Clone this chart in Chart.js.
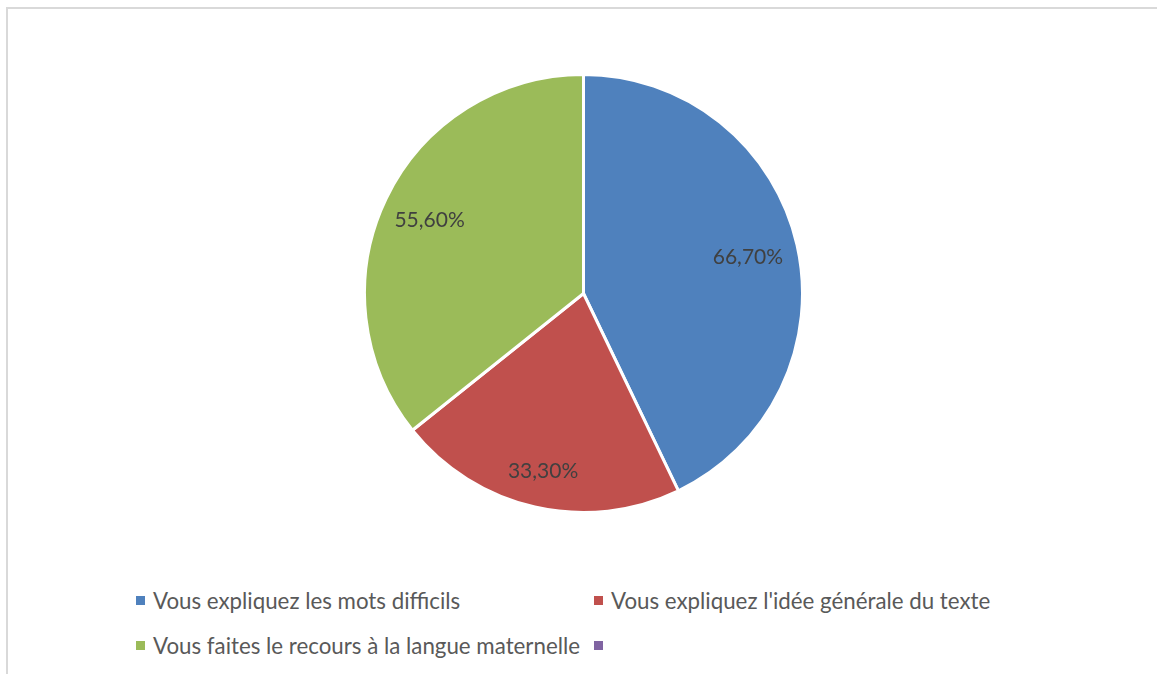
<!DOCTYPE html>
<html lang="fr">
<head>
<meta charset="utf-8">
<title>Diagramme</title>
<script src="https://cdn.jsdelivr.net/npm/chart.js@4"></script>
<style>
    html, body { margin: 0; padding: 0; background: #fff; }
    #frame {
        position: relative;
        width: 1157px;
        height: 674px;
        overflow: hidden;
        font-family: Lato, "Noto Sans", sans-serif;
    }
    #frame::before {
        content: '';
        position: absolute;
        left: 6px;
        top: 7px;
        width: 1200px;
        height: 700px;
        border-left: 2px solid #d9d9d9;
        border-top: 2px solid #d9d9d9;
    }
    #pieBox {
        position: absolute;
        left: 363px;
        top: 73px;
        width: 441px;
        height: 441px;
    }
    #legend {
        position: absolute;
        left: 136px;
        top: 578px;
        width: 916px;
        display: grid;
        grid-template-columns: 458px 458px;
        grid-auto-rows: 45px;
        color: #595959;
        font-size: 22.3px;
    }
    #legend .item { display: flex; align-items: center; white-space: nowrap; }
    #legend .box { width: 9px; height: 9px; margin-right: 8px; flex: none; }
</style>
</head>
<body>
<div id="frame">
    <div id="pieBox"><canvas id="pieChart"></canvas></div>
    <div id="legend"></div>
</div>
<script>
// Catégories et pourcentages
const categories = [
    'Vous expliquez les mots difficils',
    "Vous expliquez l'idée générale du texte",
    'Vous faites le recours à la langue maternelle',
    ''
];
const percentages = [66.7, 33.3, 55.6, null];

const sliceColors = ['#4f81bd', '#c0504d', '#9bbb59', '#8064a2'];
// distance des étiquettes depuis le centre (fraction du rayon)
const labelRadius = [0.77, 0.83, 0.78, 0.78];

function formatPct(v) {
    return v.toFixed(2).replace('.', ',') + '%';
}

// Étiquettes de valeur dans chaque part
const sliceLabels = {
    id: 'sliceLabels',
    afterDatasetsDraw(chart) {
        const ctx = chart.ctx;
        const meta = chart.getDatasetMeta(0);
        ctx.save();
        ctx.font = '21px Lato, "Noto Sans", sans-serif';
        ctx.fillStyle = '#404040';
        ctx.textAlign = 'center';
        ctx.textBaseline = 'middle';
        meta.data.forEach((arc, i) => {
            const v = percentages[i];
            if (v == null) return;
            const p = arc.getProps(['x', 'y', 'startAngle', 'endAngle', 'outerRadius'], true);
            const mid = (p.startAngle + p.endAngle) / 2;
            const r = p.outerRadius * labelRadius[i];
            ctx.fillText(formatPct(v), p.x + Math.cos(mid) * r, p.y + Math.sin(mid) * r + 1);
        });
        ctx.restore();
    }
};

const chart = new Chart(document.getElementById('pieChart'), {
    type: 'pie',
    data: {
        labels: categories,
        datasets: [{
            data: percentages,
            backgroundColor: sliceColors,
            borderColor: '#ffffff',
            borderWidth: [3, 3, 3, 0]
        }]
    },
    options: {
        responsive: true,
        maintainAspectRatio: false,
        animation: false,
        layout: { padding: 0 },
        plugins: {
            legend: { display: false },
            tooltip: { enabled: false }
        }
    },
    plugins: [sliceLabels]
});

// Légende en deux colonnes sous le graphique
const legendEl = document.getElementById('legend');
categories.forEach((name, i) => {
    const item = document.createElement('div');
    item.className = 'item';
    const box = document.createElement('span');
    box.className = 'box';
    box.style.background = sliceColors[i];
    const txt = document.createElement('span');
    txt.textContent = name;
    item.appendChild(box);
    item.appendChild(txt);
    legendEl.appendChild(item);
});
</script>
</body>
</html>
